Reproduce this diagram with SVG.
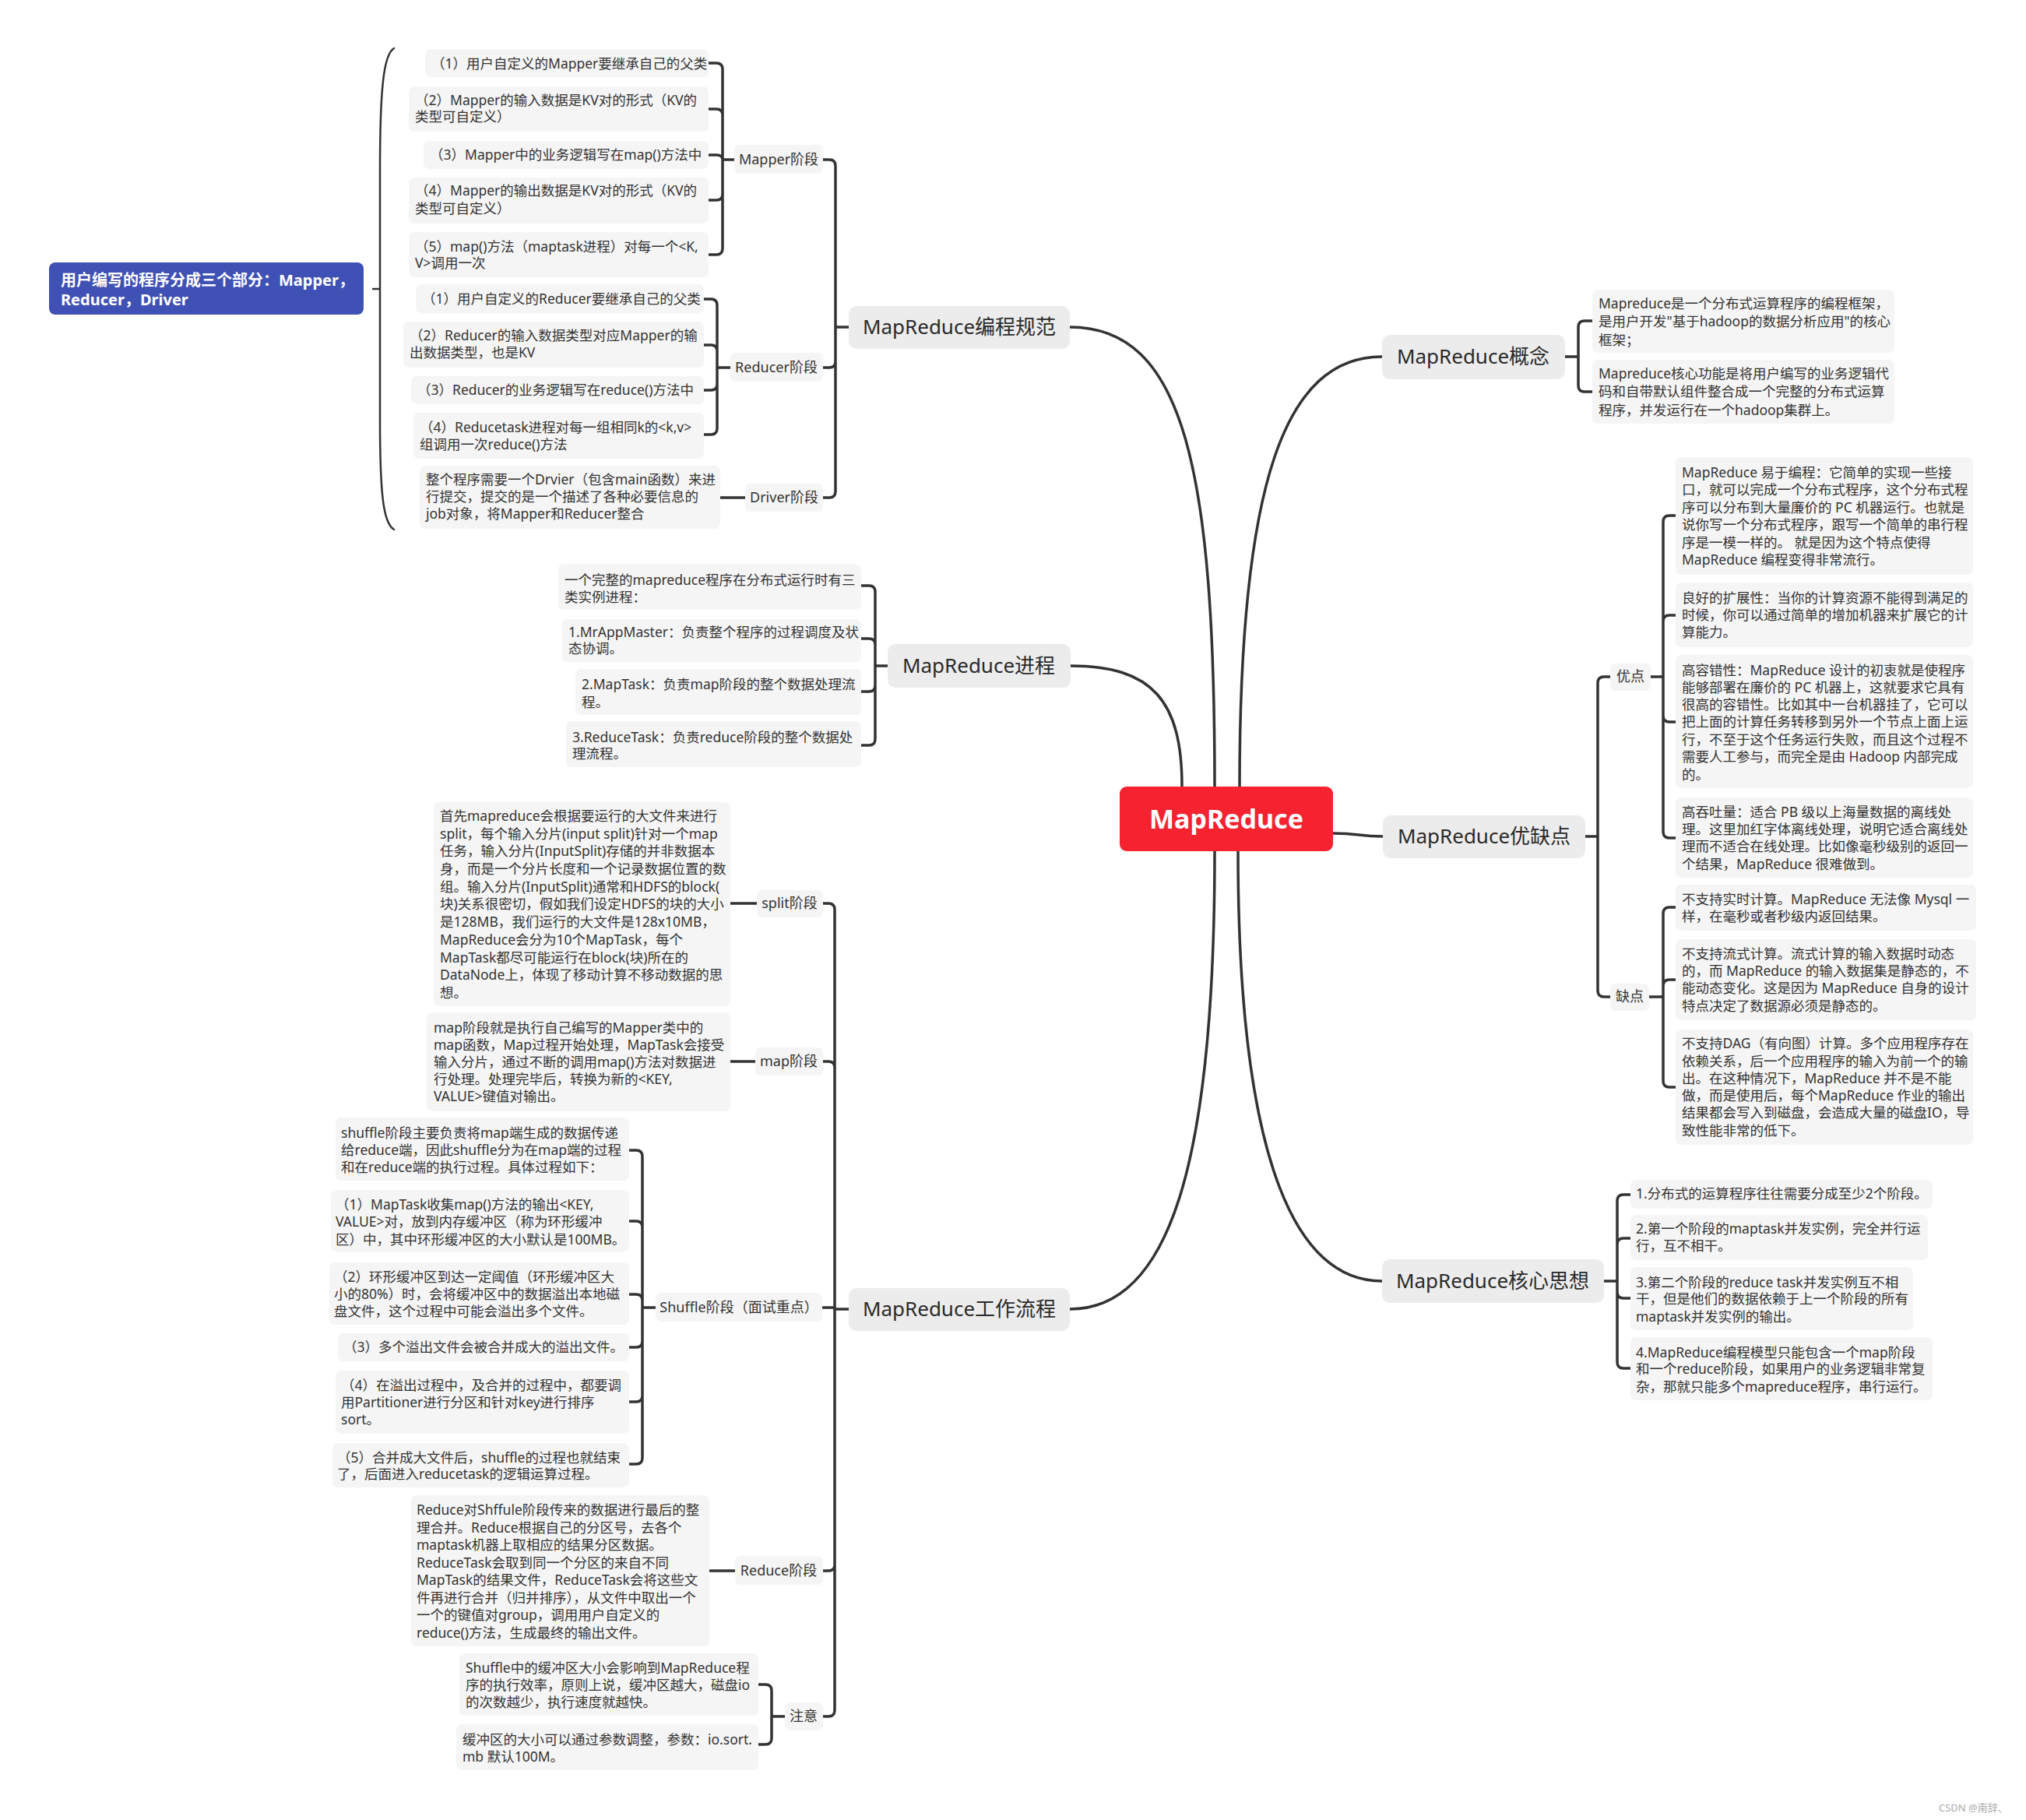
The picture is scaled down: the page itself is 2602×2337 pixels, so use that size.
<svg xmlns="http://www.w3.org/2000/svg" width="2602" height="2337" viewBox="0 0 2602 2337">
<style>
text{font-family:"Noto Sans","Noto Sans CJK SC",sans-serif;fill:#333}
.t{font-size:17.5px}
.lb{font-size:18px;text-anchor:middle}
.mt{font-size:26px;text-anchor:middle;fill:#2a2a2a}
.bx{fill:#f5f5f5}
.mb{fill:#ececec}
.ln{fill:none;stroke:#333;stroke-width:3.5;stroke-linecap:round;stroke-linejoin:round}
.br{fill:none;stroke:#333;stroke-width:2.5;stroke-linecap:round}
</style>
<rect width="2602" height="2337" fill="#fff"/>
<g id="connectors">
<path class="ln" d="M1560 1010 C1560 600 1520 420 1374 420"/>
<path class="ln" d="M1518 1010 C1518 900 1480 855 1375 855"/>
<path class="ln" d="M1560 1093 C1560 1500 1500 1681 1374 1681"/>
<path class="ln" d="M1592 1010 C1592 620 1650 458 1775 458"/>
<path class="ln" d="M1712 1070 C1745 1070 1745 1074 1776 1074"/>
<path class="ln" d="M1590 1093 C1590 1450 1650 1645 1775 1645"/>
<path class="ln" d="M1090 420 H1073 M1073 420 V213 Q1073 205 1065 205 H1057 M1073 420 V464 Q1073 472 1065 472 H1057 M1073 420 V631 Q1073 639 1065 639 H1057"/>
<path class="ln" d="M943 205 H928 M928 205 V89 Q928 81 920 81 H910 M928 205 V148 Q928 140 920 140 H910 M928 205 Q928 199 920 199 H910 M928 205 V249 Q928 257 920 257 H910 M928 205 V319 Q928 327 920 327 H910"/>
<path class="ln" d="M938 472 H921 M921 472 V392 Q921 384 913 384 H904 M921 472 V451 Q921 443 913 443 H904 M921 472 V493 Q921 501 913 501 H904 M921 472 V550 Q921 558 913 558 H904"/>
<path class="ln" d="M925 639 H957"/>
<path class="ln" d="M1140 855 H1124 M1124 855 V760 Q1124 752 1116 752 H1106 M1124 855 V828 Q1124 820 1116 820 H1106 M1124 855 V880 Q1124 888 1116 888 H1106 M1124 855 V949 Q1124 957 1116 957 H1106"/>
<path class="ln" d="M1090 1681 H1072 M1072 1681 V1168 Q1072 1160 1064 1160 H1057 M1072 1681 V1371 Q1072 1363 1064 1363 H1057 M1072 1679 H1057 M1072 1681 V2009 Q1072 2017 1064 2017 H1057 M1072 1681 V2196 Q1072 2204 1064 2204 H1057"/>
<path class="ln" d="M938 1160 H972 M938 1363 H970 M911 2017 H944"/>
<path class="ln" d="M842 1679 H825 M825 1679 V1485 Q825 1477 817 1477 H808 M825 1679 V1576 Q825 1568 817 1568 H808 M825 1679 V1670 Q825 1662 817 1662 H808 M825 1679 V1722 Q825 1730 817 1730 H808 M825 1679 V1792 Q825 1800 817 1800 H808 M825 1679 V1872 Q825 1880 817 1880 H808"/>
<path class="ln" d="M1008 2204 H991 M991 2204 V2171 Q991 2163 983 2163 H974 M991 2204 V2232 Q991 2240 983 2240 H974"/>
<path class="ln" d="M2010 458 H2027 M2027 458 V420 Q2027 412 2035 412 H2045 M2027 458 V495 Q2027 503 2035 503 H2045"/>
<path class="ln" d="M2036 1074 H2052 M2052 1074 V877 Q2052 869 2060 869 H2068 M2052 1074 V1272 Q2052 1280 2060 1280 H2068"/>
<path class="ln" d="M2120 869 H2136 M2136 869 V670 Q2136 662 2144 662 H2152 M2136 869 V798 Q2136 790 2144 790 H2152 M2136 869 V919 Q2136 927 2144 927 H2152 M2136 869 V1068 Q2136 1076 2144 1076 H2152"/>
<path class="ln" d="M2118 1280 H2136 M2136 1280 V1173 Q2136 1165 2144 1165 H2152 M2136 1280 V1266 Q2136 1258 2144 1258 H2152 M2136 1280 V1388 Q2136 1396 2144 1396 H2152"/>
<path class="ln" d="M2060 1645 H2077 M2077 1645 V1542 Q2077 1534 2085 1534 H2094 M2077 1645 V1598 Q2077 1590 2085 1590 H2094 M2077 1645 V1659 Q2077 1667 2085 1667 H2094 M2077 1645 V1749 Q2077 1757 2085 1757 H2094"/>
<path class="br" d="M506 62 C493 70 488 110 488 220 V540 C488 640 493 672 506 680 M479 371 H488"/>
</g>

<g id="center"><rect x="1438" y="1010" width="274" height="83" rx="9" fill="#f5222f"/><text x="1575" y="1064" style="font-size:34px;font-weight:bold;fill:#fff;text-anchor:middle">MapReduce</text></g>

<g id="summary"><rect x="63" y="337" width="404" height="67" rx="8" fill="#3f51b5"/><text style="font-size:20px;font-weight:bold;fill:#fff"><tspan x="78" y="367">用户编写的程序分成三个部分：Mapper，</tspan><tspan x="78" y="392">Reducer，Driver</tspan></text></g>

<g id="b-guifan"><rect class="mb" x="1090" y="393" width="284" height="55" rx="10"/><text class="mt" x="1232" y="429">MapReduce编程规范</text></g>
<g id="b-jincheng"><rect class="mb" x="1140" y="827" width="235" height="56" rx="10"/><text class="mt" x="1257" y="864">MapReduce进程</text></g>
<g id="b-liucheng"><rect class="mb" x="1090" y="1654" width="284" height="55" rx="10"/><text class="mt" x="1232" y="1690">MapReduce工作流程</text></g>
<g id="b-gainian"><rect class="mb" x="1775" y="430" width="235" height="57" rx="10"/><text class="mt" x="1892" y="467">MapReduce概念</text></g>
<g id="b-youque"><rect class="mb" x="1776" y="1047" width="260" height="55" rx="10"/><text class="mt" x="1906" y="1083">MapReduce优缺点</text></g>
<g id="b-hexin"><rect class="mb" x="1775" y="1617" width="285" height="56" rx="10"/><text class="mt" x="1917" y="1654">MapReduce核心思想</text></g>

<g id="l-mapper"><rect class="bx" x="943" y="186" width="114" height="37" rx="7"/><text class="lb" x="1000" y="211">Mapper阶段</text></g>
<g id="l-reducer"><rect class="bx" x="938" y="453" width="119" height="37" rx="7"/><text class="lb" x="997" y="478">Reducer阶段</text></g>
<g id="l-driver"><rect class="bx" x="957" y="621" width="100" height="36" rx="7"/><text class="lb" x="1007" y="645">Driver阶段</text></g>
<g id="l-split"><rect class="bx" x="972" y="1143" width="85" height="35" rx="7"/><text class="lb" x="1014" y="1166">split阶段</text></g>
<g id="l-map"><rect class="bx" x="970" y="1345" width="87" height="36" rx="7"/><text class="lb" x="1013" y="1369">map阶段</text></g>
<g id="l-shuffle"><rect class="bx" x="842" y="1660" width="214" height="37" rx="7"/><text class="lb" x="949" y="1685">Shuffle阶段（面试重点）</text></g>
<g id="l-reduce"><rect class="bx" x="944" y="1998" width="113" height="37" rx="7"/><text class="lb" x="1000" y="2023">Reduce阶段</text></g>
<g id="l-zhuyi"><rect class="bx" x="1008" y="2186" width="49" height="36" rx="7"/><text class="lb" x="1032" y="2210">注意</text></g>
<g id="l-you"><rect class="bx" x="2068" y="852" width="52" height="35" rx="7"/><text class="lb" x="2094" y="875">优点</text></g>
<g id="l-que"><rect class="bx" x="2068" y="1263" width="50" height="35" rx="7"/><text class="lb" x="2093" y="1286">缺点</text></g>

<g id="m1"><rect class="bx" x="546" y="63" width="364" height="36" rx="7"/><text class="t"><tspan x="554" y="88">（1）用户自定义的Mapper要继承自己的父类</tspan></text></g>
<g id="m2"><rect class="bx" x="525" y="111" width="385" height="58" rx="7"/><text class="t"><tspan x="533" y="135">（2）Mapper的输入数据是KV对的形式（KV的</tspan><tspan x="533" y="156">类型可自定义）</tspan></text></g>
<g id="m3"><rect class="bx" x="544" y="181" width="366" height="36" rx="7"/><text class="t"><tspan x="552" y="205">（3）Mapper中的业务逻辑写在map()方法中</tspan></text></g>
<g id="m4"><rect class="bx" x="525" y="228" width="385" height="59" rx="7"/><text class="t"><tspan x="533" y="251">（4）Mapper的输出数据是KV对的形式（KV的</tspan><tspan x="533" y="274">类型可自定义）</tspan></text></g>
<g id="m5"><rect class="bx" x="525" y="298" width="385" height="58" rx="7"/><text class="t"><tspan x="533" y="323">（5）map()方法（maptask进程）对每一个&lt;K,</tspan><tspan x="533" y="344">V&gt;调用一次</tspan></text></g>

<g id="r1"><rect class="bx" x="534" y="365" width="370" height="37" rx="7"/><text class="t"><tspan x="542" y="390">（1）用户自定义的Reducer要继承自己的父类</tspan></text></g>
<g id="r2"><rect class="bx" x="518" y="413" width="386" height="59" rx="7"/><text class="t"><tspan x="526" y="437">（2）Reducer的输入数据类型对应Mapper的输</tspan><tspan x="526" y="459">出数据类型，也是KV</tspan></text></g>
<g id="r3"><rect class="bx" x="528" y="483" width="376" height="36" rx="7"/><text class="t"><tspan x="536" y="507">（3）Reducer的业务逻辑写在reduce()方法中</tspan></text></g>
<g id="r4"><rect class="bx" x="531" y="530" width="373" height="59" rx="7"/><text class="t"><tspan x="539" y="555">（4）Reducetask进程对每一组相同k的&lt;k,v&gt;</tspan><tspan x="539" y="577">组调用一次reduce()方法</tspan></text></g>
<g id="d1"><rect class="bx" x="539" y="598" width="386" height="81" rx="7"/><text class="t"><tspan x="547" y="622">整个程序需要一个Drvier（包含main函数）来进</tspan><tspan x="547" y="644">行提交，提交的是一个描述了各种必要信息的</tspan><tspan x="547" y="666">job对象，将Mapper和Reducer整合</tspan></text></g>

<g id="p1"><rect class="bx" x="717" y="724" width="389" height="59" rx="7"/><text class="t"><tspan x="725" y="751">一个完整的mapreduce程序在分布式运行时有三</tspan><tspan x="725" y="773">类实例进程：</tspan></text></g>
<g id="p2"><rect class="bx" x="722" y="795" width="384" height="55" rx="7"/><text class="t"><tspan x="730" y="818">1.MrAppMaster：负责整个程序的过程调度及状</tspan><tspan x="730" y="839">态协调。</tspan></text></g>
<g id="p3"><rect class="bx" x="739" y="859" width="367" height="59" rx="7"/><text class="t"><tspan x="747" y="885">2.MapTask：负责map阶段的整个数据处理流</tspan><tspan x="747" y="908">程。</tspan></text></g>
<g id="p4"><rect class="bx" x="727" y="926" width="379" height="59" rx="7"/><text class="t"><tspan x="735" y="953">3.ReduceTask：负责reduce阶段的整个数据处</tspan><tspan x="735" y="974">理流程。</tspan></text></g>

<g id="w-split"><rect class="bx" x="557" y="1030" width="381" height="262" rx="7"/><text class="t"><tspan x="565" y="1054">首先mapreduce会根据要运行的大文件来进行</tspan><tspan x="565" y="1077">split，每个输入分片(input split)针对一个map</tspan><tspan x="565" y="1099">任务，输入分片(InputSplit)存储的并非数据本</tspan><tspan x="565" y="1122">身，而是一个分片长度和一个记录数据位置的数</tspan><tspan x="565" y="1145">组。输入分片(InputSplit)通常和HDFS的block(</tspan><tspan x="565" y="1167">块)关系很密切，假如我们设定HDFS的块的大小</tspan><tspan x="565" y="1190">是128MB，我们运行的大文件是128x10MB，</tspan><tspan x="565" y="1213">MapReduce会分为10个MapTask，每个</tspan><tspan x="565" y="1236">MapTask都尽可能运行在block(块)所在的</tspan><tspan x="565" y="1258">DataNode上，体现了移动计算不移动数据的思</tspan><tspan x="565" y="1281">想。</tspan></text></g>
<g id="w-map"><rect class="bx" x="548" y="1300" width="390" height="127" rx="7"/><text class="t"><tspan x="557" y="1326">map阶段就是执行自己编写的Mapper类中的</tspan><tspan x="557" y="1348">map函数，Map过程开始处理，MapTask会接受</tspan><tspan x="557" y="1370">输入分片，通过不断的调用map()方法对数据进</tspan><tspan x="557" y="1392">行处理。处理完毕后，转换为新的&lt;KEY,</tspan><tspan x="557" y="1414">VALUE&gt;键值对输出。</tspan></text></g>
<g id="s1"><rect class="bx" x="431" y="1435" width="377" height="81" rx="7"/><text class="t"><tspan x="438" y="1461">shuffle阶段主要负责将map端生成的数据传递</tspan><tspan x="438" y="1483">给reduce端，因此shuffle分为在map端的过程</tspan><tspan x="438" y="1505">和在reduce端的执行过程。具体过程如下：</tspan></text></g>
<g id="s2"><rect class="bx" x="425" y="1528" width="383" height="80" rx="7"/><text class="t"><tspan x="431" y="1553">（1）MapTask收集map()方法的输出&lt;KEY,</tspan><tspan x="431" y="1575">VALUE&gt;对，放到内存缓冲区（称为环形缓冲</tspan><tspan x="431" y="1598">区）中，其中环形缓冲区的大小默认是100MB。</tspan></text></g>
<g id="s3"><rect class="bx" x="423" y="1621" width="385" height="80" rx="7"/><text class="t"><tspan x="429" y="1646">（2）环形缓冲区到达一定阈值（环形缓冲区大</tspan><tspan x="429" y="1668">小的80%）时，会将缓冲区中的数据溢出本地磁</tspan><tspan x="429" y="1690">盘文件，这个过程中可能会溢出多个文件。</tspan></text></g>
<g id="s4"><rect class="bx" x="434" y="1712" width="374" height="36" rx="7"/><text class="t"><tspan x="441" y="1736">（3）多个溢出文件会被合并成大的溢出文件。</tspan></text></g>
<g id="s5"><rect class="bx" x="431" y="1760" width="377" height="81" rx="7"/><text class="t"><tspan x="438" y="1785">（4）在溢出过程中，及合并的过程中，都要调</tspan><tspan x="438" y="1807">用Partitioner进行分区和针对key进行排序</tspan><tspan x="438" y="1829">sort。</tspan></text></g>
<g id="s6"><rect class="bx" x="427" y="1853" width="381" height="57" rx="7"/><text class="t"><tspan x="433" y="1878">（5）合并成大文件后，shuffle的过程也就结束</tspan><tspan x="433" y="1899">了，后面进入reducetask的逻辑运算过程。</tspan></text></g>
<g id="w-reduce"><rect class="bx" x="528" y="1920" width="383" height="194" rx="7"/><text class="t"><tspan x="535" y="1945">Reduce对Shffule阶段传来的数据进行最后的整</tspan><tspan x="535" y="1968">理合并。Reduce根据自己的分区号，去各个</tspan><tspan x="535" y="1990">maptask机器上取相应的结果分区数据。</tspan><tspan x="535" y="2013">ReduceTask会取到同一个分区的来自不同</tspan><tspan x="535" y="2035">MapTask的结果文件，ReduceTask会将这些文</tspan><tspan x="535" y="2058">件再进行合并（归并排序），从文件中取出一个</tspan><tspan x="535" y="2080">一个的键值对group，调用用户自定义的</tspan><tspan x="535" y="2103">reduce()方法，生成最终的输出文件。</tspan></text></g>
<g id="n1"><rect class="bx" x="590" y="2123" width="384" height="80" rx="7"/><text class="t"><tspan x="598" y="2148">Shuffle中的缓冲区大小会影响到MapReduce程</tspan><tspan x="598" y="2170">序的执行效率，原则上说，缓冲区越大，磁盘io</tspan><tspan x="598" y="2192">的次数越少，执行速度就越快。</tspan></text></g>
<g id="n2"><rect class="bx" x="586" y="2214" width="388" height="59" rx="7"/><text class="t"><tspan x="594" y="2240">缓冲区的大小可以通过参数调整，参数：io.sort.</tspan><tspan x="594" y="2262">mb 默认100M。</tspan></text></g>

<g id="c1"><rect class="bx" x="2045" y="372" width="388" height="81" rx="7"/><text class="t"><tspan x="2053" y="396">Mapreduce是一个分布式运算程序的编程框架，</tspan><tspan x="2053" y="419">是用户开发"基于hadoop的数据分析应用"的核心</tspan><tspan x="2053" y="443">框架；</tspan></text></g>
<g id="c2"><rect class="bx" x="2045" y="462" width="388" height="82" rx="7"/><text class="t"><tspan x="2053" y="486">Mapreduce核心功能是将用户编写的业务逻辑代</tspan><tspan x="2053" y="509">码和自带默认组件整合成一个完整的分布式运算</tspan><tspan x="2053" y="533">程序，并发运行在一个hadoop集群上。</tspan></text></g>

<g id="y1"><rect class="bx" x="2152" y="587" width="382" height="151" rx="7"/><text class="t"><tspan x="2160" y="613">MapReduce 易于编程：它简单的实现一些接</tspan><tspan x="2160" y="635">口，就可以完成一个分布式程序，这个分布式程</tspan><tspan x="2160" y="658">序可以分布到大量廉价的 PC 机器运行。也就是</tspan><tspan x="2160" y="680">说你写一个分布式程序，跟写一个简单的串行程</tspan><tspan x="2160" y="703">序是一模一样的。 就是因为这个特点使得</tspan><tspan x="2160" y="725">MapReduce 编程变得非常流行。</tspan></text></g>
<g id="y2"><rect class="bx" x="2152" y="748" width="382" height="83" rx="7"/><text class="t"><tspan x="2160" y="774">良好的扩展性：当你的计算资源不能得到满足的</tspan><tspan x="2160" y="796">时候，你可以通过简单的增加机器来扩展它的计</tspan><tspan x="2160" y="818">算能力。</tspan></text></g>
<g id="y3"><rect class="bx" x="2152" y="841" width="382" height="171" rx="7"/><text class="t"><tspan x="2160" y="867">高容错性：MapReduce 设计的初衷就是使程序</tspan><tspan x="2160" y="889">能够部署在廉价的 PC 机器上，这就要求它具有</tspan><tspan x="2160" y="911">很高的容错性。比如其中一台机器挂了，它可以</tspan><tspan x="2160" y="933">把上面的计算任务转移到另外一个节点上面上运</tspan><tspan x="2160" y="956">行，不至于这个任务运行失败，而且这个过程不</tspan><tspan x="2160" y="978">需要人工参与，而完全是由 Hadoop 内部完成</tspan><tspan x="2160" y="1001">的。</tspan></text></g>
<g id="y4"><rect class="bx" x="2152" y="1024" width="382" height="103" rx="7"/><text class="t"><tspan x="2160" y="1049">高吞吐量：适合 PB 级以上海量数据的离线处</tspan><tspan x="2160" y="1071">理。这里加红字体离线处理，说明它适合离线处</tspan><tspan x="2160" y="1093">理而不适合在线处理。比如像毫秒级别的返回一</tspan><tspan x="2160" y="1116">个结果，MapReduce 很难做到。</tspan></text></g>
<g id="q1"><rect class="bx" x="2152" y="1136" width="386" height="59" rx="7"/><text class="t"><tspan x="2160" y="1161">不支持实时计算。MapReduce 无法像 Mysql 一</tspan><tspan x="2160" y="1183">样，在毫秒或者秒级内返回结果。</tspan></text></g>
<g id="q2"><rect class="bx" x="2152" y="1206" width="386" height="104" rx="7"/><text class="t"><tspan x="2160" y="1231">不支持流式计算。流式计算的输入数据时动态</tspan><tspan x="2160" y="1253">的，而 MapReduce 的输入数据集是静态的，不</tspan><tspan x="2160" y="1275">能动态变化。这是因为 MapReduce 自身的设计</tspan><tspan x="2160" y="1298">特点决定了数据源必须是静态的。</tspan></text></g>
<g id="q3"><rect class="bx" x="2152" y="1322" width="382" height="148" rx="7"/><text class="t"><tspan x="2160" y="1346">不支持DAG（有向图）计算。多个应用程序存在</tspan><tspan x="2160" y="1369">依赖关系，后一个应用程序的输入为前一个的输</tspan><tspan x="2160" y="1391">出。在这种情况下，MapReduce 并不是不能</tspan><tspan x="2160" y="1413">做，而是使用后，每个MapReduce 作业的输出</tspan><tspan x="2160" y="1435">结果都会写入到磁盘，会造成大量的磁盘IO，导</tspan><tspan x="2160" y="1458">致性能非常的低下。</tspan></text></g>

<g id="k1"><rect class="bx" x="2094" y="1515" width="388" height="37" rx="7"/><text class="t"><tspan x="2101" y="1539">1.分布式的运算程序往往需要分成至少2个阶段。</tspan></text></g>
<g id="k2"><rect class="bx" x="2094" y="1560" width="382" height="58" rx="7"/><text class="t"><tspan x="2101" y="1584">2.第一个阶段的maptask并发实例，完全并行运</tspan><tspan x="2101" y="1606">行，互不相干。</tspan></text></g>
<g id="k3"><rect class="bx" x="2094" y="1627" width="363" height="81" rx="7"/><text class="t"><tspan x="2101" y="1653">3.第二个阶段的reduce task并发实例互不相</tspan><tspan x="2101" y="1674">干，但是他们的数据依赖于上一个阶段的所有</tspan><tspan x="2101" y="1697">maptask并发实例的输出。</tspan></text></g>
<g id="k4"><rect class="bx" x="2094" y="1717" width="388" height="81" rx="7"/><text class="t"><tspan x="2101" y="1743">4.MapReduce编程模型只能包含一个map阶段</tspan><tspan x="2101" y="1764">和一个reduce阶段，如果用户的业务逻辑非常复</tspan><tspan x="2101" y="1787">杂，那就只能多个mapreduce程序，串行运行。</tspan></text></g>

<text x="2490" y="2326" style="font-size:13px;fill:#aaa">CSDN @南辞、</text>
</svg>
